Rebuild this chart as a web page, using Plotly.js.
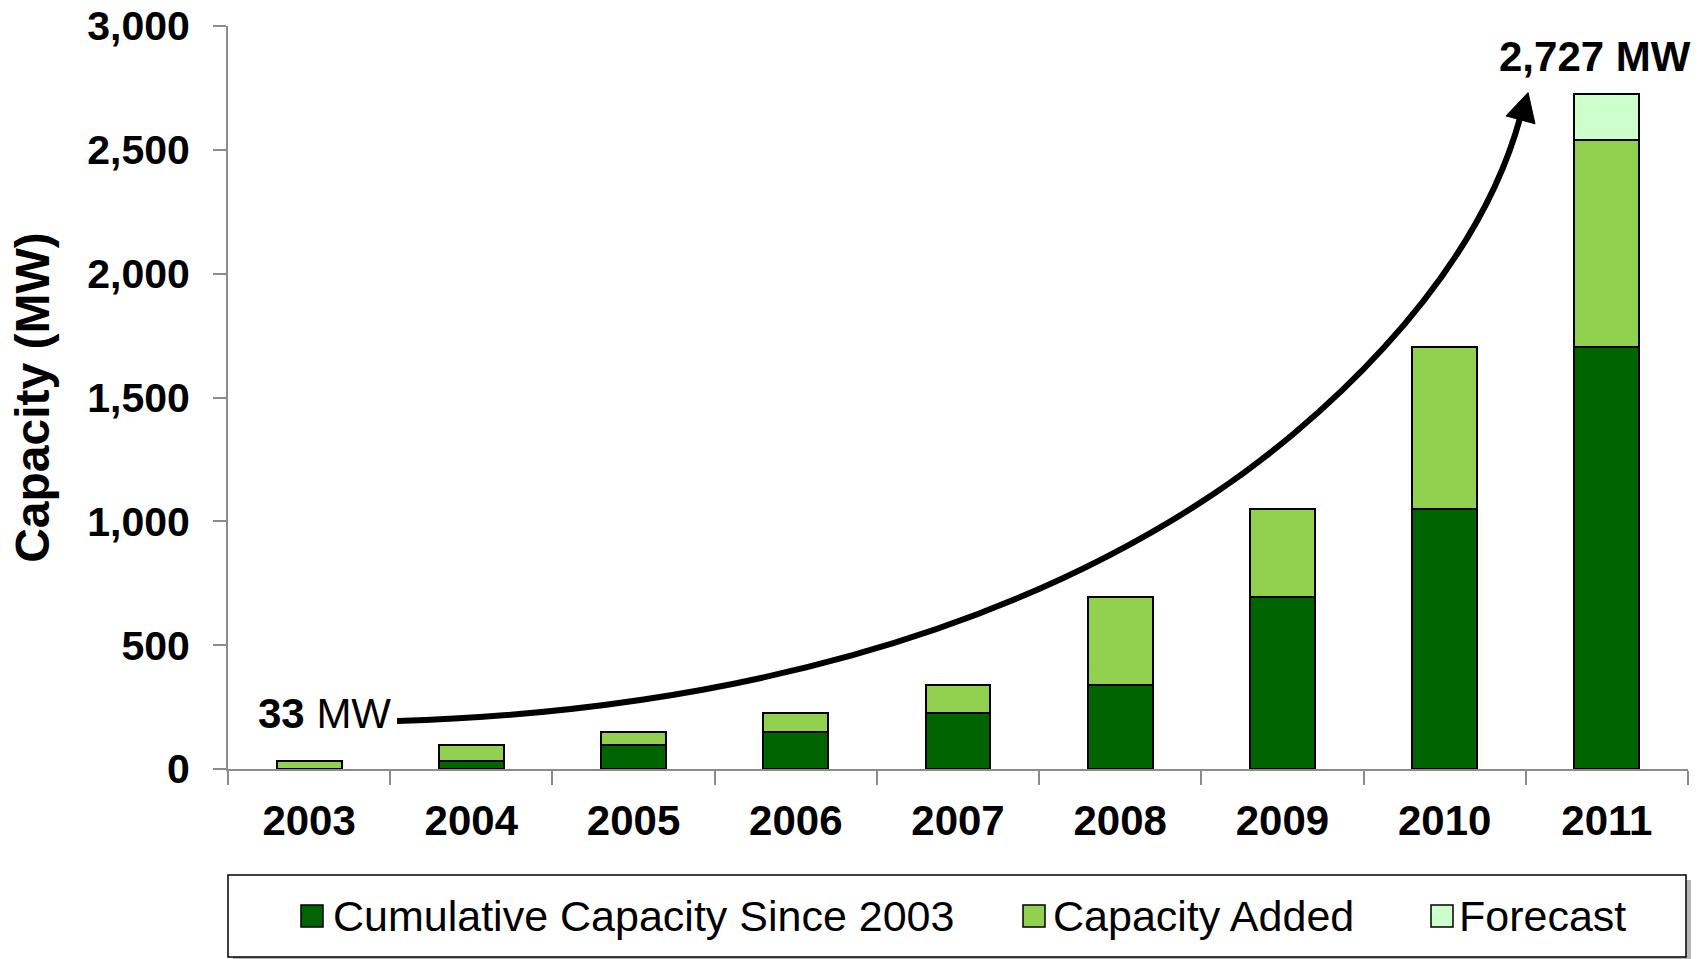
<!DOCTYPE html>
<html>
<head>
<meta charset="utf-8">
<script src="https://cdn.plot.ly/plotly-3.0.1.min.js"></script>
<style>
  html, body { margin: 0; padding: 0; background: #ffffff; }
  #chart { width: 1705px; height: 959px; }
</style>
</head>
<body>
<div id="chart"></div>
<script>
// ---- data -------------------------------------------------------------
const years = ['2003', '2004', '2005', '2006', '2007', '2008', '2009', '2010', '2011'];
const cumulativeSince2003 = [0, 33, 97, 150, 225, 339, 693, 1050, 1702];
const capacityAdded = [33, 64, 53, 75, 114, 354, 357, 652, 838];
const forecastAdded = [null, null, null, null, null, null, null, null, 187];
const seriesNames = ['Cumulative Capacity Since 2003', 'Capacity Added', 'Forecast'];
const yTickValues = [0, 500, 1000, 1500, 2000, 2500, 3000];

// ---- styling ------------------------------------------------------------
const seriesColors = ['#006400', '#92D050', '#CCFFCC'];
const FONT = 'Liberation Sans, Arial, sans-serif';
const W = 1705, H = 959;
const M = { l: 228, r: 17, t: 26, b: 190 };
const plotW = W - M.l - M.r, plotH = H - M.t - M.b;
// pixel -> paper helpers for the legend panel and labels placed in the margins
const px = x => (x - M.l) / plotW;
const py = y => (H - M.b - y) / plotH;

// growth arrow: two cubic Bezier segments, points in (category index, MW)
const arrowStart = [0.542, 194];
const arrowCurves = [
  [[2.576, 234], [4.302, 553], [5.584, 1114]],
  [[6.148, 1362], [7.171, 1928], [7.465, 2629]]
];
const arrowHead = [[7.514, 2731], [7.378, 2637], [7.557, 2605]];

const pt = p => p[0] + ',' + p[1];
const arrowPath = 'M' + pt(arrowStart) +
  arrowCurves.map(c => ' C' + c.map(pt).join(' ')).join('');

const barLine = { color: '#000000', width: 2 };
const traces = [
  { type: 'bar', x: years, y: cumulativeSince2003, name: seriesNames[0],
    marker: { color: seriesColors[0], line: barLine } },
  { type: 'bar', x: years, y: capacityAdded, name: seriesNames[1],
    marker: { color: seriesColors[1], line: barLine } },
  { type: 'bar', x: years, y: forecastAdded, name: seriesNames[2],
    marker: { color: seriesColors[2], line: barLine } }
];

const total2011 = cumulativeSince2003[8] + capacityAdded[8] + forecastAdded[8];
const fmt = v => v.toLocaleString('en-US');

// legend panel: shadow, box, swatches and labels
const legendBox = { x0: 228, x1: 1686, y0: 875, y1: 957 };
const swatchX = [301, 1023, 1431];
const labelX = [331, 1051, 1457];
const legendMidY = 916;
const sw = 22;

const shapes = [
  { type: 'path', xref: 'x', yref: 'y', path: arrowPath,
    line: { color: '#000000', width: 6 }, fillcolor: 'rgba(0,0,0,0)', layer: 'above' },
  { type: 'path', xref: 'x', yref: 'y',
    path: 'M' + arrowHead.map(pt).join(' L') + ' Z',
    line: { color: '#000000', width: 1 }, fillcolor: '#000000', layer: 'above' },
  { type: 'rect', xref: 'paper', yref: 'paper',
    x0: px(legendBox.x0 + 5), x1: px(legendBox.x1 + 5), y0: py(legendBox.y0 + 5), y1: py(legendBox.y1 + 6),
    line: { width: 0 }, fillcolor: 'rgba(0,0,0,0.28)', layer: 'above' },
  { type: 'rect', xref: 'paper', yref: 'paper',
    x0: px(legendBox.x0), x1: px(legendBox.x1), y0: py(legendBox.y0), y1: py(legendBox.y1),
    line: { color: '#000000', width: 1.5 }, fillcolor: '#ffffff', layer: 'above' }
];
const annotations = [
  { xref: 'paper', yref: 'paper', x: px(393), y: py(713), xanchor: 'right', yanchor: 'middle',
    text: '<b>' + fmt(capacityAdded[0]) + '</b> MW', showarrow: false,
    font: { family: FONT, size: 42, color: '#000000' } },
  { xref: 'paper', yref: 'paper', x: px(1595), y: py(56), xanchor: 'center', yanchor: 'middle',
    text: '<b>' + fmt(total2011) + ' MW</b>', showarrow: false,
    font: { family: FONT, size: 42, color: '#000000' } }
];
seriesNames.forEach((name, i) => {
  shapes.push({ type: 'rect', xref: 'paper', yref: 'paper',
    x0: px(swatchX[i]), x1: px(swatchX[i] + sw), y0: py(legendMidY - sw / 2), y1: py(legendMidY + sw / 2),
    line: { color: '#000000', width: 1.5 }, fillcolor: seriesColors[i], layer: 'above' });
  annotations.push({ xref: 'paper', yref: 'paper', x: px(labelX[i]), y: py(legendMidY),
    xanchor: 'left', yanchor: 'middle', text: name, showarrow: false,
    font: { family: FONT, size: 43, color: '#000000' } });
});

const axisGrey = '#8c8c8c';
const layout = {
  width: W, height: H,
  margin: M,
  paper_bgcolor: '#ffffff', plot_bgcolor: '#ffffff',
  barmode: 'stack', bargap: 0.6,
  showlegend: false,
  font: { family: FONT, color: '#000000' },
  xaxis: {
    type: 'category', range: [-0.5, 8.5],
    showline: true, linecolor: axisGrey, linewidth: 2,
    ticks: 'outside', tickson: 'boundaries', ticklen: 14, tickwidth: 2, tickcolor: axisGrey,
    ticklabelstandoff: 14,
    showgrid: false, zeroline: false,
    tickfont: { family: FONT, size: 42, weight: 'bold', color: '#000000' }
  },
  yaxis: {
    range: [0, 3000], tickvals: yTickValues, tickformat: ',d',
    showline: true, linecolor: axisGrey, linewidth: 2,
    ticks: 'outside', ticklen: 13, tickwidth: 2, tickcolor: axisGrey,
    ticklabelstandoff: 15,
    showgrid: false, zeroline: false,
    tickfont: { family: FONT, size: 41, weight: 'bold', color: '#000000' },
    title: { text: 'Capacity (MW)', standoff: 22,
      font: { family: FONT, size: 48, weight: 'bold', color: '#000000' } }
  },
  shapes: shapes,
  annotations: annotations
};

Plotly.newPlot('chart', traces, layout, { staticPlot: true, displayModeBar: false });
</script>
</body>
</html>
